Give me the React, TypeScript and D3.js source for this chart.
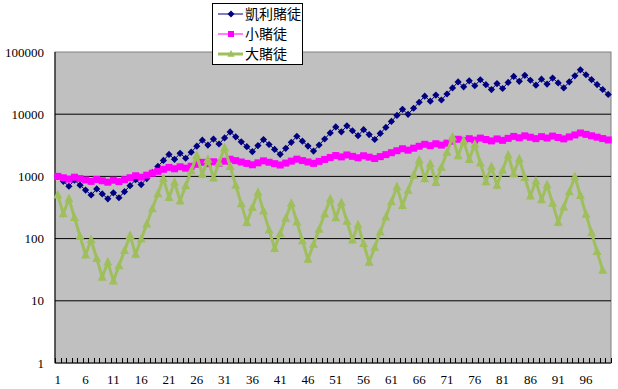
import React from "react";
import * as d3 from "d3";

// wealth of the three bettors, one value per round
const kelly = [
  1000, 833, 694, 868, 723, 603, 502, 628, 523, 436,
  545, 454, 568, 710, 887, 739, 924, 1155, 1444, 1805,
  2256, 1880, 2350, 1958, 2448, 3060, 3825, 3187, 3984, 3320,
  4150, 5188, 4323, 3603, 3002, 2502, 3127, 3909, 3258, 2715,
  2262, 2828, 3535, 4418, 3682, 3068, 2557, 3196, 3995, 4994,
  6242, 5202, 6502, 5418, 4515, 5644, 4703, 3920, 4900, 6125,
  7656, 9570, 11962, 9968, 12460, 15576, 19470, 16225, 20281, 16901,
  21126, 26408, 33010, 27508, 34385, 28654, 35818, 29848, 24873, 31092,
  25910, 32387, 40484, 33737, 42171, 35143, 29286, 36607, 30506, 38132,
  31777, 26481, 33101, 41376, 51720, 43100, 35917, 29931, 24942, 20785,
];
const small = [
  1000, 950, 903, 970, 922, 876, 832, 894, 850, 807,
  868, 824, 886, 952, 1024, 973, 1046, 1124, 1208, 1299,
  1396, 1327, 1426, 1355, 1456, 1566, 1683, 1599, 1719, 1633,
  1755, 1887, 1793, 1703, 1618, 1537, 1652, 1776, 1687, 1603,
  1523, 1637, 1760, 1892, 1797, 1707, 1622, 1744, 1874, 2015,
  2166, 2058, 2212, 2101, 1996, 2146, 2039, 1937, 2082, 2238,
  2406, 2587, 2781, 2642, 2840, 3053, 3282, 3117, 3351, 3184,
  3423, 3679, 3955, 3757, 4039, 3837, 4125, 3919, 3723, 4002,
  3802, 4087, 4394, 4174, 4487, 4263, 4049, 4353, 4135, 4446,
  4223, 4012, 4313, 4637, 4984, 4735, 4498, 4273, 4060, 3857,
];
const big = [
  500, 250, 438, 219, 109, 54.7, 95.7, 47.9, 23.9, 41.9,
  20.9, 36.6, 64.1, 112, 56.1, 98.2, 172, 301, 526, 921,
  460, 806, 403, 705, 1234, 2159, 1080, 1889, 945, 1653,
  2893, 1447, 723, 362, 181, 316, 554, 277, 138, 69.2,
  121, 212, 371, 185, 92.7, 46.4, 81.1, 142, 249, 435,
  217, 381, 190, 95.1, 167, 83.2, 41.6, 72.8, 128, 223,
  390, 683, 342, 598, 1046, 1830, 915, 1602, 801, 1401,
  2453, 4292, 2146, 3755, 1878, 3286, 1643, 822, 1438, 719,
  1258, 2201, 1101, 1926, 963, 482, 843, 421, 737, 369,
  184, 323, 565, 988, 494, 247, 124, 61.8, 30.9,
];

const categories = Array.from({ length: 100 }, (_, i) => String(i + 1));
const xTickLabels = ["1", "6", "11", "16", "21", "26", "31", "36", "41", "46",
  "51", "56", "61", "66", "71", "76", "81", "86", "91", "96"];
const yTicks = [1, 10, 100, 1000, 10000, 100000];
const seriesNames = ["凱利賭徒", "小賭徒", "大賭徒"];

const W = 618;
const H = 389;
const margin = { top: 52, right: 7, bottom: 26, left: 55 };
const numFont = "'Liberation Serif', 'DejaVu Serif', serif";
const cjkFont = "'Noto Sans CJK TC', 'Noto Sans CJK SC', sans-serif";

export default function App() {
  const x = d3
    .scaleBand<string>()
    .domain(categories)
    .range([margin.left, W - margin.right])
    .padding(0);
  const y = d3
    .scaleLog()
    .domain([1, 100000])
    .range([H - margin.bottom, margin.top]);
  const cx = (i: number) => (x(categories[i]) ?? 0) + x.bandwidth() / 2;

  const line = d3
    .line<number>()
    .x((_, i) => cx(i))
    .y((d) => y(d));

  const x0 = margin.left;
  const x1 = W - margin.right;
  const y0 = H - margin.bottom;
  const y1 = margin.top;

  const diamond = (px: number, py: number, r: number) =>
    `M${px},${py - r}L${px + r},${py}L${px},${py + r}L${px - r},${py}Z`;
  const tri = (px: number, py: number, r: number) =>
    `M${px},${py - r}L${px + r * 0.9},${py + r * 0.7}L${px - r * 0.9},${py + r * 0.7}Z`;

  const green = "#9FBF5C";

  return (
    <svg
      width={W}
      height={H}
      style={{ position: "absolute", left: 0, top: 0, background: "#fff" }}
    >
      {/* plot area */}
      <rect x={x0} y={y1} width={x1 - x0} height={y0 - y1} fill="#C0C0C0" stroke="#808080" />
      {yTicks.slice(1, -1).map((t) => (
        <line key={t} x1={x0} x2={x1} y1={y(t)} y2={y(t)} stroke="#000" strokeWidth={1} />
      ))}
      {/* axes */}
      <line x1={x0} x2={x0} y1={y1} y2={y0} stroke="#000" />
      <line x1={x0} x2={x1} y1={y0} y2={y0} stroke="#000" />
      {d3.range(categories.length + 1).map((i) => {
        const px = Math.round(x0 + i * x.bandwidth()) + 0.5;
        return <line key={i} x1={px} x2={px} y1={y0} y2={y0 - 5} stroke="#000" />;
      })}
      {yTicks.map((t) => (
        <text key={t} x={44} y={y(t)} dy="0.35em" textAnchor="end" fontFamily={numFont} fontSize={13}>
          {t}
        </text>
      ))}
      {xTickLabels.map((l) => (
        <text key={l} x={cx(categories.indexOf(l))} y={384} textAnchor="middle" fontFamily={numFont} fontSize={13}>
          {l}
        </text>
      ))}

      {/* series */}
      <path d={line(kelly) ?? ""} fill="none" stroke="#000080" strokeWidth={1} />
      {kelly.map((d, i) => (
        <path key={i} d={diamond(cx(i), y(d), 3.6)} fill="#000080" />
      ))}
      <path d={line(small) ?? ""} fill="none" stroke="#FF00FF" strokeWidth={4} />
      {small.map((d, i) => (
        <rect key={i} x={cx(i) - 3.5} y={y(d) - 3.5} width={7} height={7} fill="#FF00FF" />
      ))}
      <path d={line(big) ?? ""} fill="none" stroke={green} strokeWidth={3} />
      {big.map((d, i) => (
        <path key={i} d={tri(cx(i), y(d), 5)} fill={green} />
      ))}

      {/* legend */}
      <g>
        <rect x={212.5} y={3.5} width={90} height={61} fill="#fff" stroke="#000" />
        {seriesNames.map((name, i) => {
          const ly = 14 + i * 20;
          return (
            <g key={name}>
              {i === 0 && (
                <>
                  <line x1={218} x2={243} y1={ly} y2={ly} stroke="#000080" />
                  <path d={diamond(231, ly, 3.5)} fill="#000080" />
                </>
              )}
              {i === 1 && (
                <>
                  <line x1={218} x2={243} y1={ly} y2={ly} stroke="#FF00FF" strokeWidth={1} />
                  <rect x={228} y={ly - 3} width={6} height={6} fill="#FF00FF" />
                </>
              )}
              {i === 2 && (
                <>
                  <line x1={218} x2={243} y1={ly} y2={ly} stroke={green} strokeWidth={3} />
                  <path d={tri(231, ly, 4)} fill={green} />
                </>
              )}
              <text x={245} y={ly} dy="0.36em" fontFamily={cjkFont} fontSize={14}>
                {name}
              </text>
            </g>
          );
        })}
      </g>
    </svg>
  );
}
